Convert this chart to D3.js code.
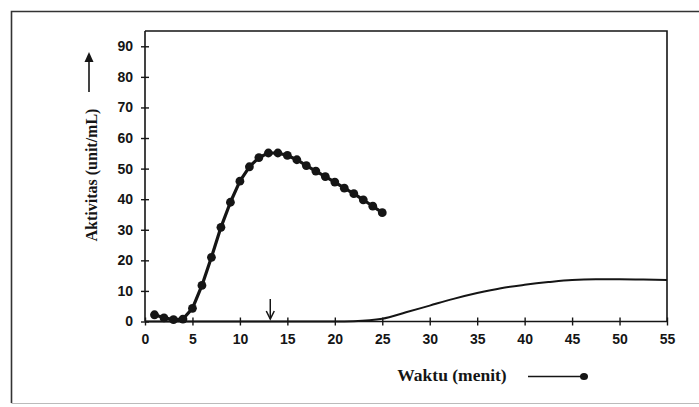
<!DOCTYPE html>
<html><head><meta charset="utf-8">
<script src="https://cdn.jsdelivr.net/npm/d3@7"></script>
<style>
html,body{margin:0;padding:0;background:#fff;}
svg{display:block;}
</style></head>
<body>
<svg id="chart" width="699" height="407"></svg>
<script>
// Series A: activity with markers (x = minutes)
const timeA = [1,2,3,4,5,6,7,8,9,10,11,12,13,14,15,16,17,18,19,20,21,22,23,24,25];
const activityA = [2.2,1.2,0.6,0.8,4.3,11.8,21,30.8,39,45.9,50.6,53.6,55.1,55.1,54.3,52.9,51,49.2,47.4,45.6,43.6,41.8,39.8,37.7,35.6];
// Series B: smooth line without markers
const timeB = [0,5,10,15,20,22,25,27.5,30,32.5,35,37.5,40,42.5,45,47.5,50,52.5,55];
const activityB = [0,0,0,0,0,0.1,0.9,3,5.2,7.4,9.3,10.9,12,12.9,13.6,13.8,13.8,13.7,13.6];
const xTicks = [0,5,10,15,20,25,30,35,40,45,50,55];
const yTicks = [0,10,20,30,40,50,60,70,80,90];
const arrowTime = 13.2;
const xTitle = "Waktu (menit)";
const yTitle = "Aktivitas (unit/mL)";

const svg = d3.select("#chart");
const ink = "#151515";
const x = d3.scaleLinear().domain([0,55]).range([145,667]);
const y = d3.scaleLinear().domain([0,95]).range([321.5,31]);

// outer frame
svg.append("path").attr("d","M699,11.5 H11.5 V403").attr("fill","none").attr("stroke","#333").attr("stroke-width",1.6);
svg.append("line").attr("x1",11.5).attr("x2",699).attr("y1",403.5).attr("y2",403.5).attr("stroke","#bbb").attr("stroke-width",1);

// plot box top/right
svg.append("path").attr("d",`M${x(0)},${y(95)} H${x(55)} V${y(0)}`).attr("fill","none").attr("stroke",ink).attr("stroke-width",1.6);

// axes
const xAxis = d3.axisBottom(x).tickValues(xTicks).tickSize(4).tickPadding(9).tickFormat(d3.format("d"));
const gx = svg.append("g").attr("transform",`translate(0,${y(0)})`).call(xAxis);
gx.select(".domain").attr("stroke",ink).attr("stroke-width",1.6).attr("d",`M${x(0)},0H${x(55)}`);
gx.selectAll(".tick line").attr("stroke",ink).attr("stroke-width",1.4).attr("y1",-4).attr("y2",4);
gx.selectAll("text").attr("font-family","'Liberation Sans',Arial,sans-serif").attr("font-weight","bold").attr("font-size",14).attr("fill",ink);

const yAxis = d3.axisLeft(y).tickValues(yTicks).tickSize(4).tickPadding(8).tickFormat(d3.format("d"));
const gy = svg.append("g").attr("transform",`translate(${x(0)},0)`).call(yAxis);
gy.select(".domain").attr("stroke",ink).attr("stroke-width",1.6).attr("d",`M0,${y(0)}V${y(95)}`);
gy.selectAll(".tick line").attr("stroke",ink).attr("stroke-width",1.4).attr("x1",-4).attr("x2",4);
gy.selectAll("text").attr("font-family","'Liberation Sans',Arial,sans-serif").attr("font-weight","bold").attr("font-size",14).attr("fill",ink);

// series B
const lineB = d3.line().x((d,i)=>x(timeB[i])).y(d=>y(d)).curve(d3.curveMonotoneX);
svg.append("path").attr("d",lineB(activityB)).attr("fill","none").attr("stroke",ink).attr("stroke-width",2);

// series A
const lineA = d3.line().x((d,i)=>x(timeA[i])).y(d=>y(d));
svg.append("path").attr("d",lineA(activityA)).attr("fill","none").attr("stroke",ink).attr("stroke-width",3.2).attr("stroke-linejoin","round");
svg.append("g").selectAll("circle").data(activityA).join("circle")
  .attr("cx",(d,i)=>x(timeA[i])).attr("cy",d=>y(d)).attr("r",4.4).attr("fill",ink);

// arrow at injection time
const ax = x(arrowTime);
svg.append("line").attr("x1",ax).attr("x2",ax).attr("y1",299).attr("y2",319).attr("stroke",ink).attr("stroke-width",1.5);
svg.append("path").attr("d",`M${ax-4},${311} L${ax},${319} L${ax+4},${311}`).attr("fill","none").attr("stroke",ink).attr("stroke-width",1.5);

// y title with arrow
svg.append("text").attr("transform","translate(97,175) rotate(-90)").attr("text-anchor","middle")
  .attr("font-family","'Liberation Serif','Times New Roman',serif").attr("font-weight","bold").attr("font-size",16).attr("fill",ink).text(yTitle);
svg.append("line").attr("x1",89).attr("x2",89).attr("y1",92).attr("y2",58).attr("stroke",ink).attr("stroke-width",1.6);
svg.append("path").attr("d","M84.5,62 L89,52 L93.5,62 Z").attr("fill",ink);

// x title with arrow
svg.append("text").attr("x",452).attr("y",381).attr("text-anchor","middle")
  .attr("font-family","'Liberation Serif','Times New Roman',serif").attr("font-weight","bold").attr("font-size",17.5).attr("fill",ink).text(xTitle);
svg.append("line").attr("x1",528).attr("x2",582).attr("y1",376.5).attr("y2",376.5).attr("stroke",ink).attr("stroke-width",1.6);
svg.append("ellipse").attr("cx",584).attr("cy",376.5).attr("rx",4).attr("ry",3.5).attr("fill",ink);
</script>
</body></html>
